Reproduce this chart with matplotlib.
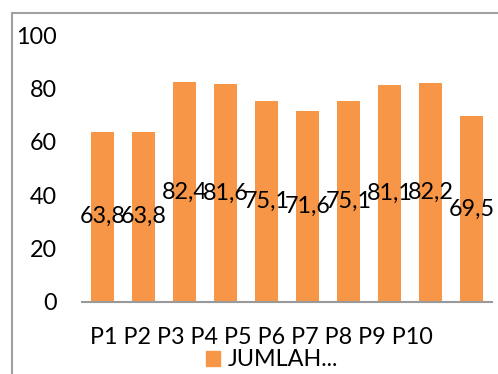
import matplotlib.pyplot as plt
import matplotlib.patches as mpatches
import numpy as np

# data
categories = ["P1", "P2", "P3", "P4", "P5", "P6", "P7", "P8", "P9", "P10"]
values = [63.8, 63.8, 82.4, 81.6, 75.1, 71.6, 75.1, 81.1, 82.2, 69.5]
series_name = "JUMLAH..."
y_ticks = [0, 20, 40, 60, 80, 100]

plt.rcParams['font.family'] = ['Lato', 'DejaVu Sans']
FS = 16.8
BAR_COLOR = '#F79646'

fig = plt.figure(figsize=(4.98, 3.74), dpi=100)
ax = fig.add_axes([82 / 498, 1 - 302 / 374, 410 / 498, 267 / 374])

x = np.arange(len(values))
bars = ax.bar(x, values, width=0.57, color=BAR_COLOR, zorder=2)

# labels in the middle of each bar
for xi, v in zip(x, values):
    ax.text(xi, v / 2, f"{v:.1f}".replace('.', ','), ha='center', va='center',
            fontsize=FS, color='black', zorder=3)

ax.set_xlim(-0.5, len(values) - 0.5)
ax.set_ylim(0, 100)
ax.set_yticks(y_ticks)
ax.set_yticklabels([str(t) for t in y_ticks], fontsize=FS)
ax.tick_params(axis='y', length=0, pad=18)
ax.set_xticks([])
for s in ['top', 'right', 'left']:
    ax.spines[s].set_visible(False)
ax.spines['bottom'].set_color('#999999')
ax.spines['bottom'].set_linewidth(1.5)

# category labels as one text row (as in reference)
fig.text(90 / 498, 1 - 337 / 374, " ".join(categories), ha='left', va='center',
         fontsize=FS)

# legend
handle = mpatches.Patch(color=BAR_COLOR)
fig.legend([handle], [series_name], loc='center', bbox_to_anchor=(272 / 498, 1 - 360 / 374),
           frameon=False, fontsize=FS, handlelength=0.6, handleheight=0.6,
           handletextpad=0.3, borderpad=0, borderaxespad=0)

# chart border
border = mpatches.Rectangle((12 / 498, -0.1), 1.2, 1 - 13 / 374 + 0.1, transform=fig.transFigure,
                            fill=False, edgecolor='#a0a0a0', linewidth=1.5)
fig.patches.append(border)

fig.savefig('out.png', dpi=100)
